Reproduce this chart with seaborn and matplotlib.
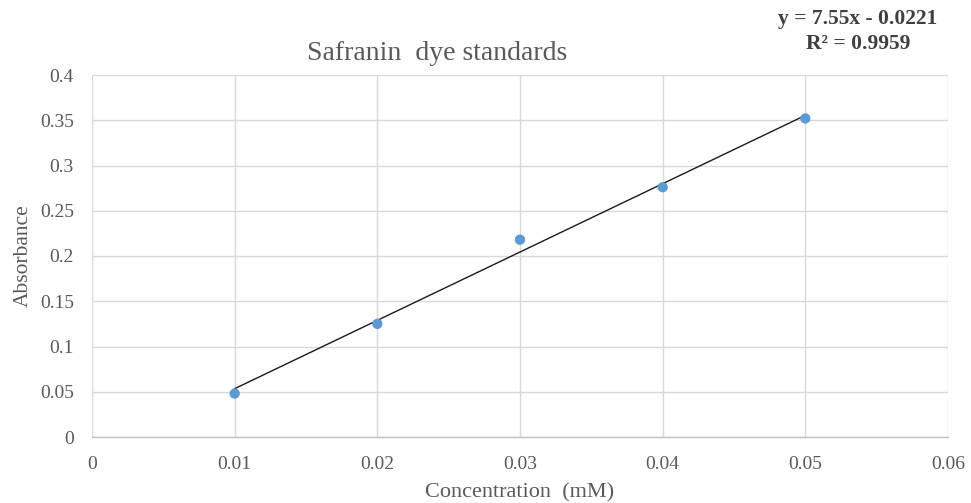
import numpy as np
import pandas as pd
import matplotlib
matplotlib.use("Agg")
import matplotlib.pyplot as plt
import seaborn as sns

# Standard curve data
concentration = [0.01, 0.02, 0.03, 0.04, 0.05]
absorbance = [0.048, 0.125, 0.218, 0.276, 0.352]

# Linear trendline parameters
slope = 7.55
intercept = -0.0221
r_squared = 0.9959

x_ticks = [0, 0.01, 0.02, 0.03, 0.04, 0.05, 0.06]
x_tick_labels = ["0", "0.01", "0.02", "0.03", "0.04", "0.05", "0.06"]
y_ticks = [0, 0.05, 0.1, 0.15, 0.2, 0.25, 0.3, 0.35, 0.4]
y_tick_labels = ["0", "0.05", "0.1", "0.15", "0.2", "0.25", "0.3", "0.35", "0.4"]

sns.set_theme(style="white")
plt.rcParams["font.family"] = ["Liberation Serif", "DejaVu Serif"]

text_color = "#595959"
grid_color = "#d9d9d9"

W, H = 971, 503
fig = plt.figure(figsize=(W / 100, H / 100), dpi=100)
ax = fig.add_axes([92 / W, 1 - 437 / H, (948 - 92) / W, (437 - 75) / H])

df = pd.DataFrame({"Concentration": concentration, "Absorbance": absorbance})

trend_x = np.array([concentration[0], concentration[-1]])
trend = pd.DataFrame({"x": trend_x, "y": slope * trend_x + intercept})
sns.lineplot(data=trend, x="x", y="y", ax=ax, color="#1a1a1a", linewidth=1.0, zorder=2)

sns.scatterplot(data=df, x="Concentration", y="Absorbance", ax=ax,
                color="#5b9bd5", s=55, edgecolor="none", zorder=3)

ax.set_xlim(0, 0.06)
ax.set_ylim(0, 0.4)
ax.set_xticks(x_ticks)
ax.set_xticklabels(x_tick_labels)
ax.set_yticks(y_ticks)
ax.set_yticklabels(y_tick_labels)

ax.grid(True, color=grid_color, linewidth=1.0)
ax.set_axisbelow(True)
for side in ["top", "right", "left"]:
    ax.spines[side].set_visible(False)
ax.spines["bottom"].set_color("#bfbfbf")
ax.spines["bottom"].set_linewidth(1.0)

ax.tick_params(axis="both", colors=text_color, labelsize=14, length=0)
ax.tick_params(axis="x", pad=14)
ax.tick_params(axis="y", pad=13)

ax.set_xlabel("Concentration  (mM)", color=text_color, fontsize=16, labelpad=7)
ax.set_ylabel("Absorbance", color=text_color, fontsize=15.5, labelpad=5)
fig.text(437 / W, 1 - 53 / H, "Safranin  dye standards", ha="center", va="center",
         color=text_color, fontsize=20)

fig.text(858 / W, 1 - 19 / H, f"y = {slope:.2f}x - {abs(intercept):.4f}", ha="center", va="center",
         color="#404040", fontsize=15.5, fontweight="bold")
fig.text(858 / W, 1 - 44 / H, f"R² = {r_squared:.4f}", ha="center", va="center",
         color="#404040", fontsize=15.5, fontweight="bold")

fig.savefig("out.png", dpi=100, facecolor="white")
